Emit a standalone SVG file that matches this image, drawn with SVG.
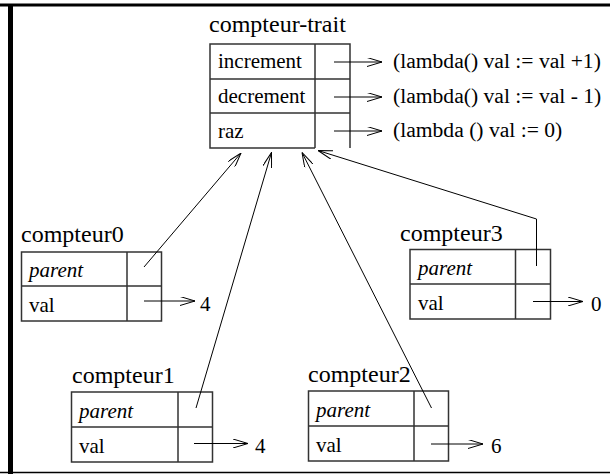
<svg xmlns="http://www.w3.org/2000/svg" width="610" height="474" viewBox="0 0 610 474">
<defs>
<style>
.box{fill:none;stroke:#333;stroke-width:1.5}
.ln{fill:none;stroke:#000;stroke-width:1}
.t{font-family:"Liberation Serif","Times New Roman",serif;font-size:21px;fill:#000}
.lam{font-size:21.6px}
.lbl{font-family:"Liberation Serif","Times New Roman",serif;font-size:24px;fill:#000}
.it{font-style:italic}
</style>
<marker id="ah" viewBox="0 0 15 9" refX="15" refY="4.5" markerWidth="15" markerHeight="9" markerUnits="userSpaceOnUse" orient="auto">
<path d="M0,0 L15,4.5 L0,9" fill="none" stroke="#000" stroke-width="1"/>
</marker>
</defs>
<rect width="610" height="474" fill="#fff"/>
<g id="frame">
<line x1="0" y1="5" x2="610" y2="5" stroke="#000" stroke-width="3"/>
<line x1="10.5" y1="4" x2="10.5" y2="474" stroke="#000" stroke-width="5"/>
<line x1="0" y1="472.5" x2="610" y2="472.5" stroke="#000" stroke-width="1.5"/>
</g>
<g id="compteur-trait">
<text class="lbl" x="209" y="32">compteur-trait</text>
<path class="box" d="M350,148 V44 H210 V148 H315 M315,44 V148 M210,79 H350 M210,113 H350"/>
<text class="t" x="218" y="68">increment</text>
<text class="t" x="218" y="103">decrement</text>
<text class="t" x="218" y="138">raz</text>
<text class="t lam" x="393" y="68">(lambda() val := val +1)</text>
<text class="t lam" x="393" y="103">(lambda() val := val - 1)</text>
<text class="t lam" x="393" y="137">(lambda () val := 0)</text>
</g>
<g id="compteur0">
<text class="lbl" x="21" y="242">compteur0</text>
<rect class="box" x="21.5" y="252" width="140" height="69"/>
<path class="box" d="M127,252 V321 M21.5,286 H161.5"/>
<text class="t it" x="29" y="277">parent</text>
<text class="t" x="29" y="312">val</text>
<text class="t" x="200" y="311">4</text>
</g>
<g id="compteur1">
<text class="lbl" x="72" y="383">compteur1</text>
<rect class="box" x="71.5" y="392" width="141" height="70"/>
<path class="box" d="M178,392 V462 M71.5,427 H212.5"/>
<text class="t it" x="79" y="418">parent</text>
<text class="t" x="79" y="453">val</text>
<text class="t" x="255" y="453">4</text>
</g>
<g id="compteur2">
<text class="lbl" x="308" y="382">compteur2</text>
<rect class="box" x="308.5" y="391" width="140" height="70"/>
<path class="box" d="M414,391 V461 M308.5,426 H448.5"/>
<text class="t it" x="316" y="417">parent</text>
<text class="t" x="316" y="452">val</text>
<text class="t" x="491" y="453">6</text>
</g>
<g id="compteur3">
<text class="lbl" x="400" y="241">compteur3</text>
<rect class="box" x="410" y="249.5" width="140.5" height="69.5"/>
<path class="box" d="M515.5,249.5 V319 M410,284 H550.5"/>
<text class="t it" x="418" y="275">parent</text>
<text class="t" x="418" y="310">val</text>
<text class="t" x="591" y="311">0</text>
</g>
<g id="connectors">
<line class="ln" x1="334" y1="62" x2="382" y2="62" marker-end="url(#ah)"/>
<line class="ln" x1="334" y1="97" x2="382" y2="97" marker-end="url(#ah)"/>
<line class="ln" x1="334" y1="131" x2="382" y2="131" marker-end="url(#ah)"/>
<line class="ln" x1="144" y1="301" x2="195" y2="301" marker-end="url(#ah)"/>
<line class="ln" x1="194" y1="443.5" x2="248" y2="443.5" marker-end="url(#ah)"/>
<line class="ln" x1="431" y1="444" x2="483" y2="444" marker-end="url(#ah)"/>
<line class="ln" x1="533" y1="301.5" x2="583" y2="301.5" marker-end="url(#ah)"/>
<line class="ln" x1="144" y1="267" x2="241" y2="153" marker-end="url(#ah)"/>
<line class="ln" x1="196" y1="408" x2="271.5" y2="152.5" marker-end="url(#ah)"/>
<line class="ln" x1="431.5" y1="408" x2="302" y2="152.5" marker-end="url(#ah)"/>
<polyline class="ln" points="536.5,266 536.5,219 318,150.5" marker-end="url(#ah)"/>
</g>
</svg>
